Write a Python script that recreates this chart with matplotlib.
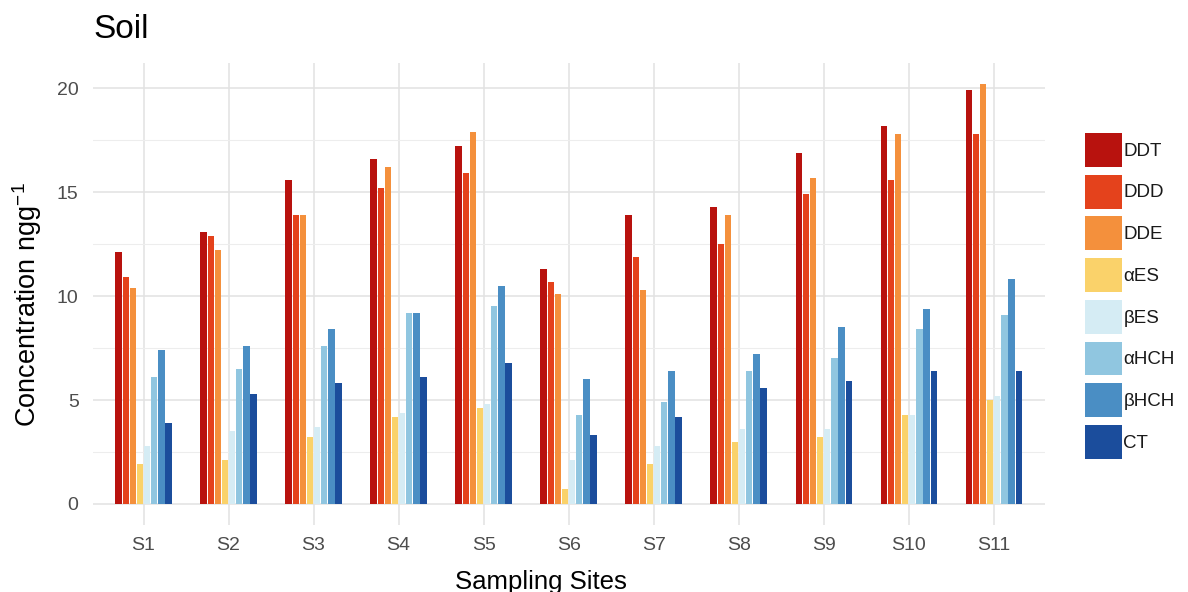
import numpy as np
import matplotlib
matplotlib.use("Agg")
import matplotlib.pyplot as plt
from matplotlib.patches import Patch

plt.rcParams["font.family"] = ["Liberation Sans", "DejaVu Sans"]
plt.rcParams["mathtext.default"] = "regular"

# ── data ──────────────────────────────────────────────────────────────────────
sites = ["S1", "S2", "S3", "S4", "S5", "S6", "S7", "S8", "S9", "S10", "S11"]

ddt  = [12.1, 13.1, 15.6, 16.6, 17.2, 11.3, 13.9, 14.3, 16.9, 18.2, 19.9]
ddd  = [10.9, 12.9, 13.9, 15.2, 15.9, 10.7, 11.9, 12.5, 14.9, 15.6, 17.8]
dde  = [10.4, 12.2, 13.9, 16.2, 17.9, 10.1, 10.3, 13.9, 15.7, 17.8, 20.2]
a_es = [1.9, 2.1, 3.2, 4.2, 4.6, 0.7, 1.9, 3.0, 3.2, 4.3, 5.0]
b_es = [2.8, 3.5, 3.7, 4.4, 4.8, 2.1, 2.8, 3.6, 3.6, 4.3, 5.2]
a_hch = [6.1, 6.5, 7.6, 9.2, 9.5, 4.3, 4.9, 6.4, 7.0, 8.4, 9.1]
b_hch = [7.4, 7.6, 8.4, 9.2, 10.5, 6.0, 6.4, 7.2, 8.5, 9.4, 10.8]
ct   = [3.9, 5.3, 5.8, 6.1, 6.8, 3.3, 4.2, 5.6, 5.9, 6.4, 6.4]

series = [ddt, ddd, dde, a_es, b_es, a_hch, b_hch, ct]
labels = ["DDT", "DDD", "DDE", "αES", "βES", "αHCH", "βHCH", "CT"]
colors = ["#B8120E", "#E4421C", "#F4903C", "#FAD26A",
          "#D5ECF4", "#90C6E0", "#4A8EC4", "#1B4D9C"]

# ── figure ────────────────────────────────────────────────────────────────────
W, H = 1188, 592
fig = plt.figure(figsize=(W / 100, H / 100), dpi=100)
fig.patch.set_facecolor("white")
ax = fig.add_axes([92.5 / W, 1 - 525 / H, (1044.7 - 92.5) / W, (525 - 63) / H])

x = np.arange(len(sites))
n = len(series)
step = 0.084
bw = 0.074
for i, (vals, lab, col) in enumerate(zip(series, labels, colors)):
    off = (i - (n - 1) / 2) * step
    ax.bar(x + off, vals, width=bw, color=col, label=lab, zorder=3, linewidth=0)

ax.set_xlim(-0.6, len(sites) - 0.4)
ax.set_ylim(-1.01, 21.21)
ax.set_xticks(x)
ax.set_xticklabels(sites)
ax.set_yticks([0, 5, 10, 15, 20])
ax.set_yticks([2.5, 7.5, 12.5, 17.5], minor=True)

for s in ax.spines.values():
    s.set_visible(False)
ax.grid(True, which="major", color="#e2e2e2", linewidth=1.1, zorder=0)
ax.grid(True, which="minor", axis="y", color="#ededed", linewidth=0.8, zorder=0)
ax.tick_params(axis="both", which="both", length=0, labelsize=14, labelcolor="#4d4d4d")
ax.tick_params(axis="y", pad=10)
ax.tick_params(axis="x", pad=9)

fig.text(93 / W, 1 - 30 / H, "Soil", fontsize=24, va="center", ha="left")
fig.text(541 / W, 1 - 582 / H, "Sampling Sites", fontsize=18.5, va="center", ha="center")
fig.text(27 / W, 1 - 305 / H, "Concentration ngg$^{-1}$", fontsize=19.5,
         rotation=90, va="center", ha="center")

handles = [Patch(facecolor=c, edgecolor="none") for c in colors]
fig.legend(handles, labels, loc="upper left", bbox_to_anchor=(1085 / W, 1 - 133 / H),
           frameon=False, fontsize=13.5, handlelength=1.95, handleheight=2.4,
           labelspacing=0.42, handletextpad=0.1, borderaxespad=0, borderpad=0,
           labelcolor="#1a1a1a")

fig.savefig("out.png", dpi=100)
